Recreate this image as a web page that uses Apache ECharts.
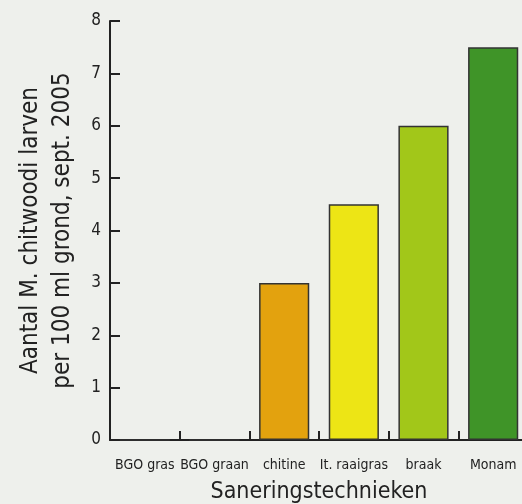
<!DOCTYPE html>
<html>
<head>
<meta charset="utf-8">
<script src="https://cdn.jsdelivr.net/npm/echarts@6/dist/echarts.min.js"></script>
<style>
  html, body { margin: 0; padding: 0; background: #eef0ec; }
  #chart { width: 522px; height: 504px; }
</style>
</head>
<body>
<div id="chart"></div>
<script>
const categories = ["BGO gras", "BGO graan", "chitine", "It. raaigras", "braak", "Monam"];
const larvae = [0, 0, 3, 4.5, 6, 7.5];
const yTicks = [0, 1, 2, 3, 4, 5, 6, 7, 8];

const barColors = ["#e3a20e", "#e3a20e", "#e3a20e", "#ede515", "#a2c719", "#3f9428"];
const font = "'Liberation Sans Narrow', 'DejaVu Sans Condensed', sans-serif";

const chart = echarts.init(document.getElementById("chart"));
chart.setOption({
  backgroundColor: "#eef0ec",
  animation: false,
  grid: { left: 110, top: 21, width: 418, height: 419, containLabel: false, outerBoundsMode: "none" },
  xAxis: {
    type: "category",
    data: categories,
    name: "Saneringstechnieken",
    nameLocation: "middle",
    nameGap: 41,
    nameTextStyle: { fontFamily: font, fontSize: 23, color: "#222" },
    axisLine: { lineStyle: { color: "#222", width: 2 } },
    axisTick: { show: true, inside: true, length: 9, interval: 0, lineStyle: { color: "#222", width: 2 } },
    axisLabel: { fontFamily: font, fontSize: 14, color: "#222", margin: 18, interval: 0 },
  },
  yAxis: {
    type: "value",
    min: yTicks[0],
    max: yTicks[yTicks.length - 1],
    interval: 1,
    name: "Aantal M. chitwoodi larven\nper 100 ml grond, sept. 2005",
    nameLocation: "middle",
    nameGap: 31,
    nameRotate: 90,
    nameTextStyle: { fontFamily: font, fontSize: 24, color: "#222", lineHeight: 32 },
    axisLine: { show: true, lineStyle: { color: "#222", width: 2 } },
    axisTick: { show: true, inside: true, length: 10, lineStyle: { color: "#222", width: 2 } },
    axisLabel: { fontFamily: font, fontSize: 17, color: "#222", margin: 9 },
    splitLine: { show: false },
  },
  series: [
    {
      type: "bar",
      barWidth: "72%",
      data: larvae.map((v, i) => ({
        value: v,
        itemStyle: { color: barColors[i], borderColor: "#333", borderWidth: 1.5 },
      })),
    },
  ],
});
</script>
</body>
</html>
